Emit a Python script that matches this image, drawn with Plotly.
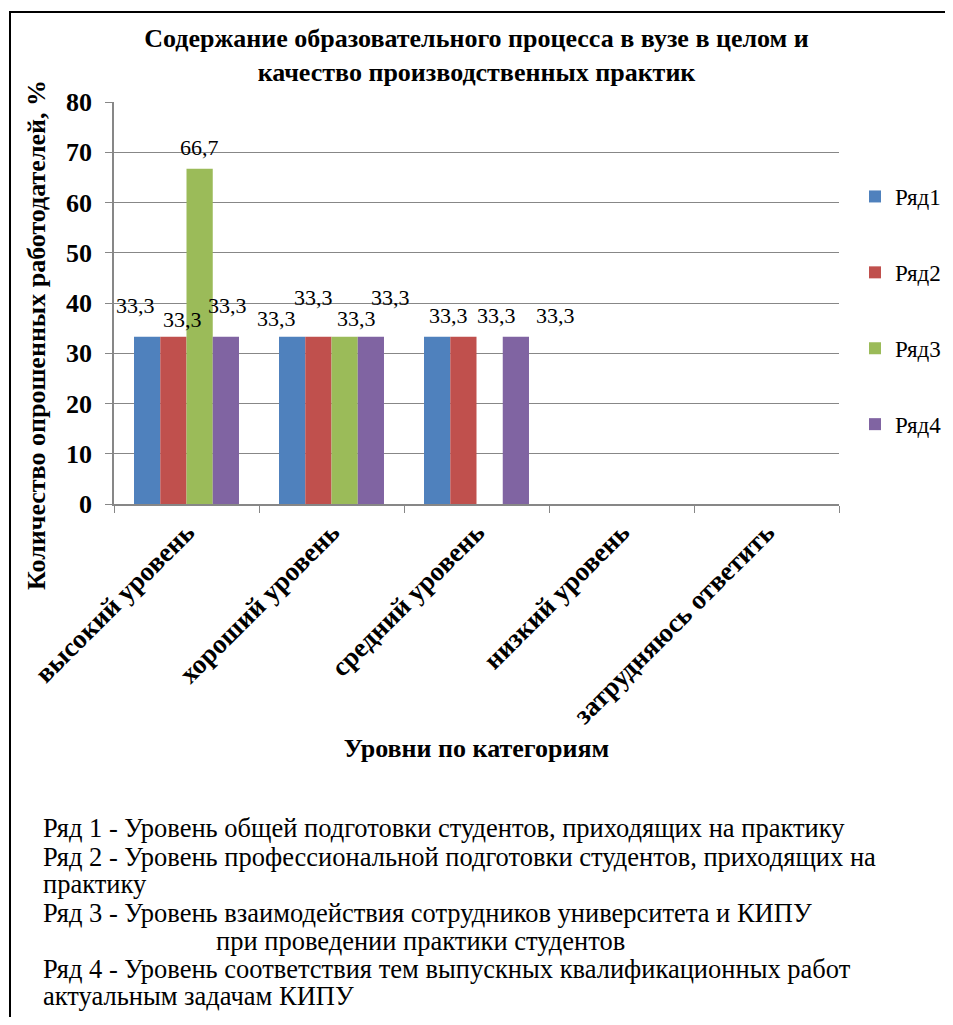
import plotly.graph_objects as go

# ---- data ----
categories = ["высокий уровень", "хороший уровень", "средний уровень",
              "низкий уровень", "затрудняюсь ответить"]
series_names = ["Ряд1", "Ряд2", "Ряд3", "Ряд4"]
row1 = [33.3, 33.3, 33.3, None, None]
row2 = [33.3, 33.3, 33.3, None, None]
row3 = [66.7, 33.3, None, None, None]
row4 = [33.3, 33.3, 33.3, None, None]
y_ticks = [0, 10, 20, 30, 40, 50, 60, 70, 80]

title_text = "Содержание образовательного процесса в вузе в целом и<br>качество производственных практик"
y_title = "Количество опрошенных работодателей, %"
x_title = "Уровни по категориям"
notes = [
    "Ряд 1 - Уровень общей подготовки студентов, приходящих на практику",
    "Ряд 2 - Уровень профессиональной подготовки студентов, приходящих на",
    "практику",
    "Ряд 3 - Уровень взаимодействия сотрудников университета и КИПУ",
    "при проведении практики студентов",
    "Ряд 4 - Уровень соответствия тем выпускных квалификационных работ",
    "актуальным задачам КИПУ",
]

# ---- styles / layout (pixel positions are page coordinates) ----
colors = ["#4F81BD", "#C0504D", "#9BBB59", "#8064A2"]
OFF = 8                      # default body margin of the html page
W, H = 953 - 2 * OFF, 1025 - 2 * OFF
L, R, T, B = 114, 839, 102, 504
BARGAP = 0.276
SERIF = "Liberation Serif"

# label nudges in pixels (dx, dy up from bar top) per (category, series)
label_nudge = {
    (0, 0): (-12, 31), (0, 1): (9, 17), (0, 2): (0, 21), (0, 3): (2, 31),
    (1, 0): (-16, 18), (1, 1): (-5, 39), (1, 2): (12, 18), (1, 3): (20, 39),
    (2, 0): (11, 21), (2, 1): (33, 21), (2, 3): (40, 21),
}
note_pos = [(41, 828), (41, 857), (41, 884), (41, 913), (214, 941), (41, 969), (41, 996)]


def px(x):
    return (x - L) / (R - L)


def py(y):
    return (B - y) / (B - T)


series = [row1, row2, row3, row4]
fig = go.Figure()
for name, vals, c in zip(series_names, series, colors):
    fig.add_trace(go.Bar(name=name, x=categories, y=vals, marker_color=c,
                         marker_line_width=0, legendgroup=name))

annotations = []
bw = (1 - BARGAP) / len(series)
for j, vals in enumerate(series):
    for i, v in enumerate(vals):
        if v is None:
            continue
        dx, dy = label_nudge.get((i, j), (0, 20))
        annotations.append(dict(
            x=i + (j - (len(series) - 1) / 2) * bw, y=v, xref="x", yref="y",
            text=f"{v:.1f}".replace(".", ","), showarrow=False,
            xshift=dx, yshift=dy, yanchor="middle", xanchor="center",
            font=dict(family=SERIF, size=22, color="black")))

# y axis title as annotation
annotations.append(dict(
    x=px(36), y=py(335), xref="paper", yref="paper", text=y_title,
    textangle=-90, showarrow=False, xanchor="center", yanchor="middle",
    font=dict(family=SERIF, size=26, color="black", weight="bold")))

for txt, (xx, yy) in zip(notes, note_pos):
    annotations.append(dict(
        x=px(xx), y=py(yy), xref="paper", yref="paper", text=txt,
        showarrow=False, xanchor="left", yanchor="middle",
        font=dict(family=SERIF, size=26.5, color="black")))

fig.update_layout(
    width=W, height=H,
    margin=dict(l=L - OFF, r=W - (R - OFF), t=T - OFF, b=H - (B - OFF),
                autoexpand=False),
    paper_bgcolor="white", plot_bgcolor="white",
    barmode="group", bargap=BARGAP, bargroupgap=0,
    title=dict(text=title_text, x=0.5, xanchor="center", y=1 - 39 / H,
               yanchor="top", yref="container",
               font=dict(family=SERIF, size=26, color="black", weight="bold")),
    legend=dict(x=px(855), y=py(175), xanchor="left", yanchor="top",
                font=dict(family=SERIF, size=23, color="black"),
                tracegroupgap=43, bgcolor="rgba(0,0,0,0)"),
    annotations=annotations,
    shapes=[dict(type="rect", xref="paper", yref="paper",
                 x0=px(10), x1=px(1000), y0=py(1100), y1=py(12),
                 line=dict(color="black", width=2), layer="above")],
    xaxis=dict(
        tickangle=-45, tickson="boundaries", ticks="outside", ticklen=7,
        tickcolor="#878787", showline=True, linecolor="#878787", linewidth=1.5,
        showgrid=False, range=[-0.5, 4.5],
        tickfont=dict(family=SERIF, size=27, color="black", weight="bold"),
        title=dict(text=x_title, standoff=10,
                   font=dict(family=SERIF, size=26, color="black", weight="bold")),
    ),
    yaxis=dict(
        range=[0, 80], tickvals=y_ticks, ticks="outside", ticklen=7,
        ticklabelstandoff=8,
        tickcolor="#878787", showline=True, linecolor="#878787", linewidth=1.5,
        showgrid=True, gridcolor="#878787", gridwidth=1, zeroline=False,
        tickfont=dict(family=SERIF, size=26, color="black", weight="bold"),
    ),
)

fig.write_html("out.html")
